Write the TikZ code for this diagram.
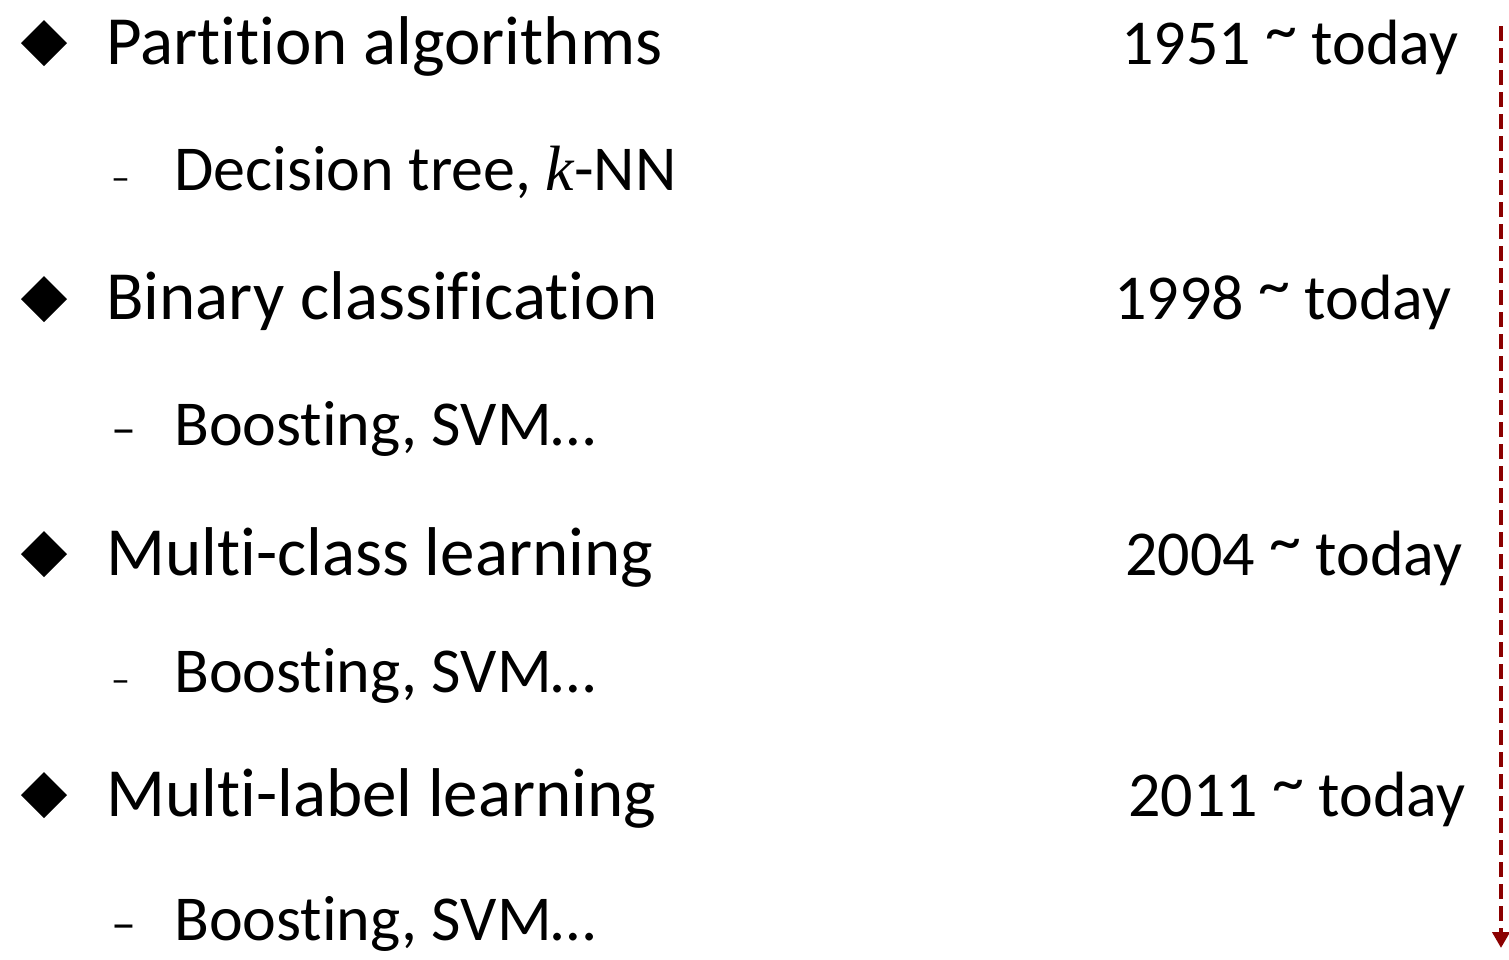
\documentclass[tikz,border=0pt]{standalone}
\usepackage{fontspec}
\setmainfont{Carlito}[Ligatures={NoCommon,NoRare,NoContextual}]
\newfontfamily\kfont{Liberation Serif}
\usetikzlibrary{arrows.meta}
\definecolor{timered}{RGB}{139,0,0}
\newcommand{\hightilde}{\raisebox{13pt}{\char"007E}}
\tikzset{
  head/.style={anchor=base west, inner sep=0pt, font=\fontsize{69}{72}\selectfont},
  sub/.style={anchor=base west, inner sep=0pt, font=\fontsize{64}{68}\selectfont},
  year/.style={anchor=base west, inner sep=0pt, font=\fontsize{64}{68}\selectfont},
  subdash/.style={anchor=base west, inner sep=0pt},
  marker/.style={fill=black, draw=none},
  timeline/.style={draw=timered, line width=4.5pt, dash pattern=on 15pt off 7pt,
    -{Triangle[width=17pt,length=16pt]}}
}
\begin{document}
\begin{tikzpicture}[x=1pt, y=-1pt]
  \useasboundingbox (0,0) rectangle (1509,959);
  % bullet diamonds
  \foreach \yy in {43, 299, 554, 795}{
    \fill[marker] (44,\yy-23) -- (67,\yy) -- (44,\yy+23) -- (21,\yy) -- cycle;
  }
  % main items
  \node[head] (h1) at (106,64) {Partition algorithms};
  \node[head] (h2) at (106,319) {Binary classification};
  \node[head] (h3) at (106,575) {Multi-class learning};
  \node[head] (h4) at (106,816) {Multi-label learning};
  % sub items
  \node[subdash, font=\fontsize{38}{40}\selectfont] (s1d) at (111,190) {–};
  \node[sub] (s1) at (174,190) {Decision tree, {\kfont\itshape k}-NN};
  \node[subdash, font=\fontsize{50}{52}\selectfont] (s2d) at (111,445) {–};
  \node[sub] (s2) at (174,445) {Boosting, SVM…};
  \node[subdash, font=\fontsize{38}{40}\selectfont] (s3d) at (111,692) {–};
  \node[sub] (s3) at (174,692) {Boosting, SVM…};
  \node[subdash, font=\fontsize{50}{52}\selectfont] (s4d) at (111,940) {–};
  \node[sub] (s4) at (174,940) {Boosting, SVM…};
  % periods
  \node[year] (y1) at (1121,64) {1951 \hightilde\ today};
  \node[year] (y2) at (1114,319) {1998 \hightilde\ today};
  \node[year] (y3) at (1125,575) {2004 \hightilde\ today};
  \node[year] (y4) at (1128,816) {2011 \hightilde\ today};
  % time axis
  \coordinate (tstart) at (1501,26);
  \coordinate (tend) at (1501,948);
  \draw[timeline] (tstart) -- (tend);
\end{tikzpicture}
\end{document}
